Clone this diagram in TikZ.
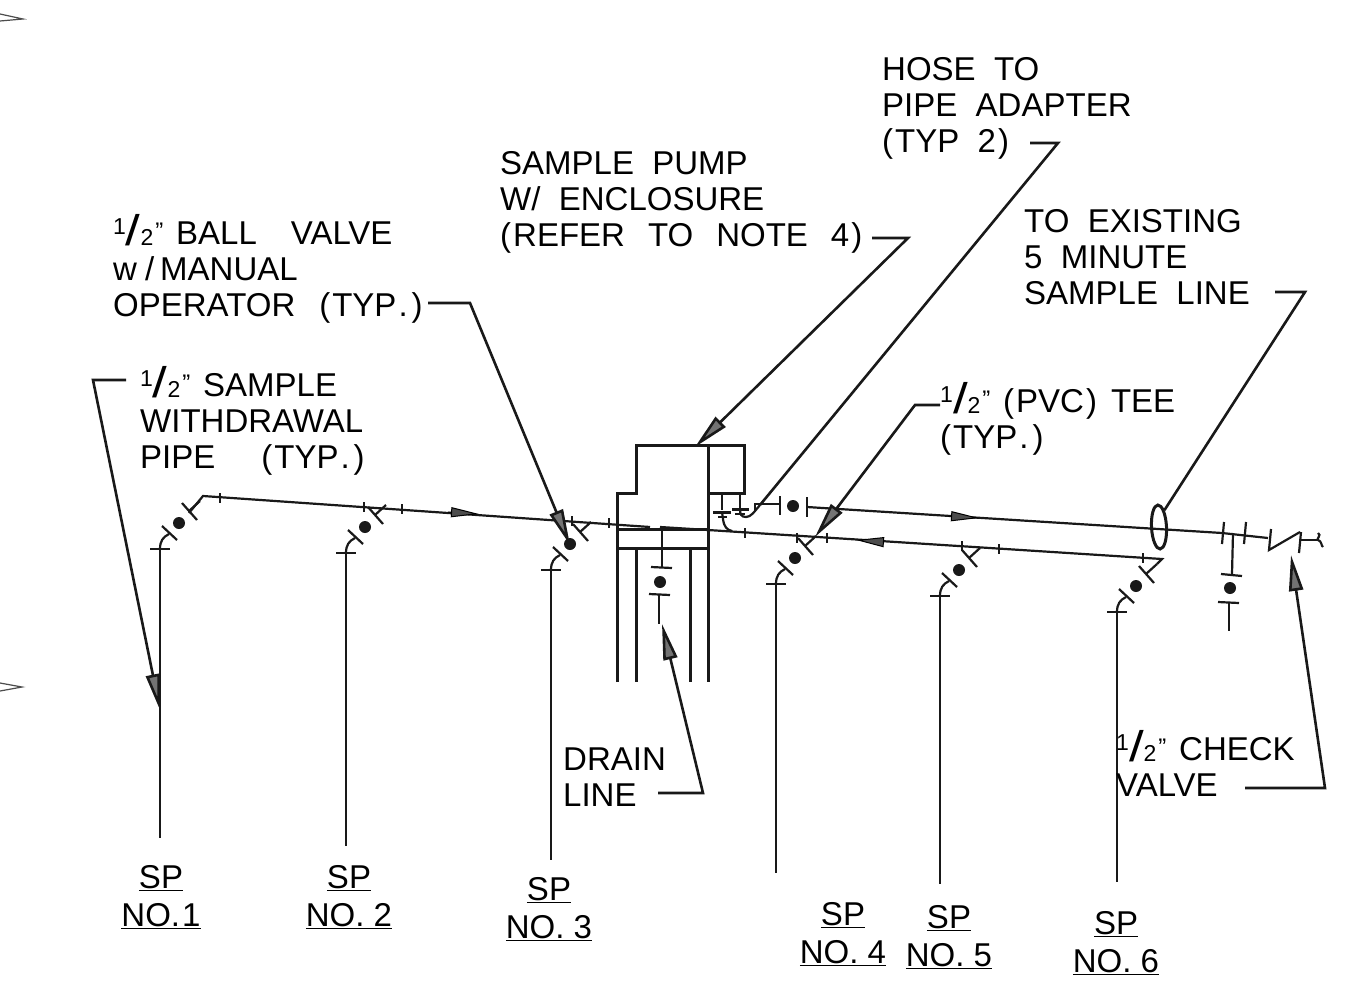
\documentclass[tikz,border=0pt]{standalone}
\usepackage{graphicx}
\usepackage{fontspec}
\setmainfont{Liberation Sans}
\usetikzlibrary{arrows.meta,shapes.geometric}
\newcommand{\halfmark}{\makebox[63pt][l]{\raisebox{10pt}{\fontsize{23}{23}\selectfont 1}\raisebox{-1pt}{\scalebox{1.6}[1.3]{/}}\raisebox{-1pt}{\fontsize{23}{23}\selectfont 2}\kern2pt\raisebox{5pt}{\fontsize{24}{24}\selectfont "}}}
\newcommand{\plo}{(\kern2pt}
\newcommand{\pcl}{\kern2pt)}
\newcommand{\pdot}{\kern2pt.\kern2pt}
\tikzset{
  x=1pt,y=-1pt,
  pipe/.style={line width=2.2pt,black!90},
  wall/.style={line width=3pt,black!90},
  tickline/.style={line width=2.2pt,black!90},
  lead/.style={line width=2.6pt,black!90},
  leadarrow/.style={lead,-{Triangle[length=36pt,width=14pt,fill=black!55]}},
  flowarrow/.style={line width=1pt,black,-{Triangle[length=28pt,width=10pt,fill=black!70]}},
  lbl/.style={anchor=base west,inner sep=0pt,align=left,font=\fontsize{33}{36}\selectfont,black},
  splbl/.style={anchor=base,inner sep=0pt,align=center,font=\fontsize{33}{38}\selectfont,black},
  balldot/.style={fill=black!90},
  valve/.pic={
    \coordinate (-in) at (0,0);
    \coordinate (-out) at (40,-48);
    \draw[tickline] (-10,0) -- (10,0);
    \draw[pipe] (0,0) .. controls (0,-8) and (3,-12) .. (9,-15);
    \draw[tickline] (2,-23) -- (17,-9);
    \fill[balldot] (19,-26) circle (6);
    \draw[tickline] (22,-46) -- (37,-29);
    \draw[pipe] (29,-38) -- (40,-48);
  }
}
\begin{document}
\begin{tikzpicture}
\useasboundingbox (0,0) rectangle (1347,1007);
\fill[white] (0,0) rectangle (1347,1007);
% edge marks
\draw[line width=1.2pt,black!70] (0,14) -- (23,19) -- (0,21);
\draw[line width=1.2pt,black!70] (0,683) -- (22,687) -- (0,691);

% valves
\pic (v1) at (160,549) {valve};
\pic (v2) at (346,553) {valve};
\pic (v3) at (551,570) {valve};
\pic (v4) at (776,584) {valve};
\pic (v5) at (940,596) {valve};
\pic (v6) at (1117,612) {valve};

% pipe ends
\coordinate (e1) at (160,838);
\coordinate (e2) at (346,846);
\coordinate (e3) at (551,860);
\coordinate (e4) at (776,873);
\coordinate (e5) at (940,884);
\coordinate (e6) at (1117,882);
\foreach \i in {1,...,6} \draw[pipe] (v\i-in) -- (e\i);

% main lines
\coordinate (c1) at (203,496);
\coordinate (m1) at (650,527);
\coordinate (m2) at (660,527);
\coordinate (m3) at (708,530);
\coordinate (m4) at (1162,559);
\draw[pipe] (189,513) -- (c1) -- (m1);
\draw[pipe] (m2) -- (m3) -- (m4) -- (v6-out);
% line ticks
\foreach \a/\b in {220/493,364/502,402/504,572/516,609/518,797/533,827/533,745/528,962/541,999/544,1143/553}
  \draw[tickline] (\a,\b) -- ++(0,10);

% pump enclosure
\coordinate (pa) at (617,682);
\coordinate (pb) at (617,493);
\coordinate (pc) at (636,493);
\coordinate (pd) at (636,445);
\coordinate (pe) at (744,445);
\coordinate (pf) at (744,493);
\coordinate (pg) at (708,493);
\coordinate (ph) at (708,445);
\coordinate (pi) at (708,682);
\draw[wall] (pa) -- (pb) -- (pc) -- (pd) -- (pe) -- (pf) -- (pg);
\draw[wall] (ph) -- (pi);
\draw[wall] (617,529) -- (708,529);
\draw[wall] (617,548) -- (708,548);
\draw[wall] (636,548) -- (636,682);
\draw[wall] (690,548) -- (690,682);

% drain branch
\draw[pipe] (662,530) -- (662,567);
\draw[tickline] (651,567) -- (672,568);
\fill[balldot] (660,582) circle (6);
\draw[tickline] (649,594) -- (670,595);
\draw[pipe] (659,595) -- (659,624);

% hose adapters
\draw[pipe] (722,493) -- (722,510);
\draw[line width=3pt,black!90] (713,512) -- (731,512);
\draw[line width=2.6pt,black!90] (718,517) -- (727,517);
\draw[pipe] (722,512) -- (723,519) .. controls (724,527) and (727,530) .. (732,531);
\draw[pipe] (740,493) -- (740,508);
\draw[line width=3pt,black!90] (732,509) -- (749,509);
\draw[line width=2.6pt,black!90] (735,514) -- (745,514);
\draw[pipe] (740,509) .. controls (740,514) and (741,517) .. (746,517) .. controls (751,517) and (754,512) .. (760,505);

% top right line
\coordinate (t1) at (807,507);
\coordinate (t2) at (1222,533);
\draw[pipe] (755,503) -- (755,512);
\draw[pipe] (755,504) -- (780,504);
\draw[tickline] (780,496) -- (780,515);
\fill[balldot] (793,506) circle (6);
\draw[tickline] (807,497) -- (807,517);
\draw[pipe] (t1) -- (t2) -- (1268,538);
\draw[tickline] (1224,522) -- (1222,544);
\draw[tickline] (1246,522) -- (1244,544);
\draw[tickline] (1271,529) -- (1269,550) -- (1300,532);
\draw[tickline] (1301,532) -- (1299,553);
\draw[pipe] (1300,540) -- (1318,540);
\draw[pipe] (1318,533) .. controls (1322,535) and (1316,539) .. (1318,540) .. controls (1322,541) and (1321,546) .. (1323,547);

% tee branch
\draw[pipe] (1233,533) -- (1232,574);
\draw[tickline] (1221,574) -- (1242,576);
\fill[balldot] (1230,588) circle (6);
\draw[tickline] (1218,602) -- (1239,603);
\draw[pipe] (1229,602) -- (1229,631);

% sampling ring
\node[draw,line width=3pt,black!90,ellipse,inner sep=0pt,minimum width=15pt,minimum height=44pt,rotate=3] (ring) at (1159,527) {};

% flow arrows
\coordinate (f1a) at (448,512); \coordinate (f1b) at (479,514);
\coordinate (f2a) at (948,516); \coordinate (f2b) at (979,518);
\coordinate (f3a) at (882,542); \coordinate (f3b) at (856,540);
\draw[flowarrow] (f1a) -- (f1b);
\draw[flowarrow] (f2a) -- (f2b);
\draw[flowarrow] (f3a) -- (f3b);

% labels
\node[lbl] (hose) at (882,152) {HOSE\ \ TO\\PIPE\ \ ADAPTER\\\plo TYP\ \ 2\pcl};
\node[lbl] (pump) at (500,246) {SAMPLE\ \ PUMP\\W/\ \ ENCLOSURE\\\plo REFER\hspace{23pt}TO\hspace{23pt}NOTE\hspace{23pt}4\pcl};
\node[lbl] (ball) at (113,316) {\halfmark BALL\hspace{34pt}VALVE\\w\kern8pt/\kern6pt MANUAL\\OPERATOR\hspace{24pt}\plo TYP\pdot\pcl};
\node[lbl] (exist) at (1024,304) {TO\ \ EXISTING\\5\ \ MINUTE\\SAMPLE\ \ LINE};
\node[lbl] (withdraw) at (140,468) {\halfmark SAMPLE\\WITHDRAWAL\\PIPE\hspace{46pt}\plo TYP\pdot\pcl};
\node[lbl] (tee) at (940,448) {\halfmark \plo PVC\pcl\hspace{14pt}TEE\\\plo TYP\pdot\pcl};
\node[lbl] (drain) at (563,806) {DRAIN\\LINE};
\node[lbl] (check) at (1116,796) {\halfmark CHECK\\VALVE};
\node[splbl] (sp1) at (161,926) {\underline{SP}\\\underline{NO.\kern2pt 1}};
\node[splbl] (sp2) at (349,926) {\underline{SP}\\\underline{NO. 2}};
\node[splbl] (sp3) at (549,938) {\underline{SP}\\\underline{NO. 3}};
\node[splbl] (sp4) at (843,963) {\underline{SP}\\\underline{NO. 4}};
\node[splbl] (sp5) at (949,966) {\underline{SP}\\\underline{NO. 5}};
\node[splbl] (sp6) at (1116,972) {\underline{SP}\\\underline{NO. 6}};

% leaders
\coordinate (l1) at (126,380); \coordinate (l1b) at (93,380); \coordinate (l1c) at (160,710);
\draw[leadarrow] (l1) -- (l1b) -- (l1c);
\coordinate (l2) at (428,303); \coordinate (l2b) at (470,303); \coordinate (l2c) at (570,545);
\draw[leadarrow] (l2) -- (l2b) -- (l2c);
\coordinate (l3) at (872,238); \coordinate (l3b) at (908,238); \coordinate (l3c) at (695,447);
\draw[leadarrow] (l3) -- (l3b) -- (l3c);
\coordinate (l4) at (1030,143); \coordinate (l4b) at (1058,143); \coordinate (l4c) at (760,505);
\draw[lead] (l4) -- (l4b) -- (l4c);
\coordinate (l5) at (940,405); \coordinate (l5b) at (915,405); \coordinate (l5c) at (815,537);
\draw[leadarrow] (l5) -- (l5b) -- (l5c);
\coordinate (l6) at (1275,292); \coordinate (l6b) at (1305,292);
\draw[lead] (l6) -- (l6b) -- (ring.north east);
\coordinate (l7) at (658,793); \coordinate (l7b) at (703,793); \coordinate (l7c) at (662,624);
\draw[leadarrow] (l7) -- (l7b) -- (l7c);
\coordinate (l8) at (1245,788); \coordinate (l8b) at (1325,788); \coordinate (l8c) at (1291,555);
\draw[leadarrow] (l8) -- (l8b) -- (l8c);
\end{tikzpicture}
\end{document}
